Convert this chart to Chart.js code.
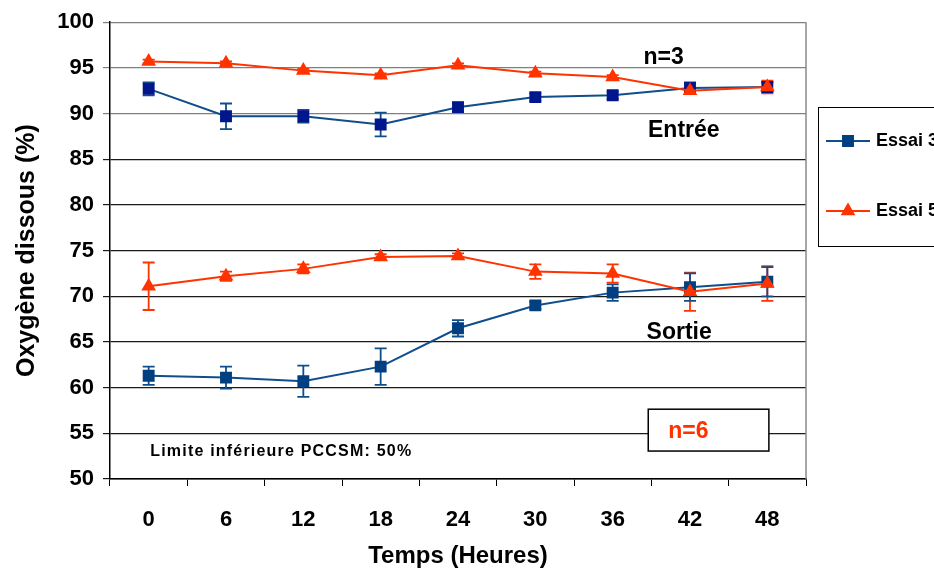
<!DOCTYPE html>
<html>
<head>
<meta charset="utf-8">
<script src="https://cdn.jsdelivr.net/npm/chart.js@4/dist/chart.umd.min.js"></script>
<style>
html,body{margin:0;padding:0;background:#fff;}
#wrap{width:934px;height:571px;position:relative;}
</style>
</head>
<body>
<div id="wrap"><canvas id="c" width="934" height="571"></canvas></div>
<script>
const categories = ['0','6','12','18','24','30','36','42','48'];
const yTicks = [50,55,60,65,70,75,80,85,90,95,100];

const essai3Entree    = [92.7, 89.7, 89.7, 88.8, 90.7, 91.8, 92.0, 92.8, 92.9];
const essai3EntreeErr = [0.7, 1.4, 0.7, 1.3, 0.5, 0.4, 0.4, 0.6, 0.5];
const essai5Entree    = [95.7, 95.5, 94.7, 94.2, 95.3, 94.4, 94.0, 92.5, 92.9];
const essai5EntreeErr = [0.2, 0.2, 0.2, 0.2, 0.2, 0.2, 0.2, 0.2, 0.7];
const essai3Sortie    = [61.3, 61.1, 60.7, 62.3, 66.5, 69.0, 70.4, 71.0, 71.6];
const essai3SortieErr = [1.0, 1.2, 1.7, 2.0, 0.9, 0.4, 0.9, 1.5, 1.6];
const essai5Sortie    = [71.1, 72.2, 73.0, 74.3, 74.4, 72.7, 72.5, 70.5, 71.4];
const essai5SortieErr = [2.6, 0.5, 0.5, 0.3, 0.3, 0.8, 1.0, 2.1, 1.9];

const seriesNames = ['Essai 3', 'Essai 5'];

const BLUE_LINE = '#104e8b';
const BLUE_MARK_IN = '#00168c';
const BLUE_MARK_OUT = '#003f80';
const RED = '#ff3300';
const FONT = '"Liberation Sans", Arial, sans-serif';

function blueDs(label, data, err, mark) {
  return { label, data, err, borderColor: BLUE_LINE, backgroundColor: mark, pointBorderColor: mark,
    pointBackgroundColor: mark, pointStyle: 'rect', pointRadius: 7, pointHoverRadius: 7,
    borderWidth: 2, tension: 0, errColor: BLUE_LINE };
}
function redDs(label, data, err) {
  return { label, data, err, borderColor: RED, backgroundColor: RED, pointBorderColor: RED,
    pointBackgroundColor: RED, pointStyle: 'triangle', pointRadius: 6.5, pointHoverRadius: 6.5,
    borderWidth: 2, tension: 0, errColor: RED };
}

const errorBars = {
  id: 'errorBars',
  beforeDatasetsDraw(chart) {
    const ctx = chart.ctx, y = chart.scales.y;
    chart.data.datasets.forEach((ds, di) => {
      const meta = chart.getDatasetMeta(di);
      if (!ds.err) return;
      ctx.save();
      ctx.strokeStyle = ds.errColor;
      ctx.lineWidth = 1.8;
      meta.data.forEach((pt, i) => {
        const e = ds.err[i];
        const v = ds.data[i];
        const yt = y.getPixelForValue(v + e), yb = y.getPixelForValue(v - e);
        const x = pt.x, w = 6;
        ctx.beginPath();
        ctx.moveTo(x, yt); ctx.lineTo(x, yb);
        ctx.moveTo(x - w, yt); ctx.lineTo(x + w, yt);
        ctx.moveTo(x - w, yb); ctx.lineTo(x + w, yb);
        ctx.stroke();
      });
      ctx.restore();
    });
  }
};

const decorations = {
  id: 'decorations',
  beforeDatasetsDraw(chart) {
    const ctx = chart.ctx, a = chart.chartArea;
    ctx.save();
    ctx.strokeStyle = '#888';
    ctx.lineWidth = 1.5;
    ctx.beginPath();
    ctx.moveTo(a.right, a.top); ctx.lineTo(a.right, a.bottom);
    ctx.stroke();
    ctx.restore();
  },
  afterDraw(chart) {
    const ctx = chart.ctx, x = chart.scales.x, y = chart.scales.y, a = chart.chartArea;
    ctx.save();
    ctx.fillStyle = '#000';
    ctx.textBaseline = 'middle';
    ctx.textAlign = 'center';
    ctx.font = 'bold 23px ' + FONT;
    ctx.fillText('n=3', x.getPixelForValue(6.66), y.getPixelForValue(96.07));
    ctx.fillText('Entrée', x.getPixelForValue(6.92), y.getPixelForValue(88.1));
    ctx.fillText('Sortie', x.getPixelForValue(6.86), y.getPixelForValue(66.05));

    // n=6 box
    const bx1 = x.getPixelForValue(6.46), bx2 = x.getPixelForValue(8.02);
    const by1 = y.getPixelForValue(57.64), by2 = y.getPixelForValue(53.06);
    ctx.fillStyle = '#fff';
    ctx.fillRect(bx1, by1, bx2 - bx1, by2 - by1);
    ctx.strokeStyle = '#000';
    ctx.lineWidth = 1.5;
    ctx.strokeRect(bx1, by1, bx2 - bx1, by2 - by1);
    ctx.fillStyle = RED;
    ctx.textAlign = 'center';
    ctx.fillText('n=6', x.getPixelForValue(6.98), y.getPixelForValue(55.13));

    ctx.fillStyle = '#000';
    ctx.textAlign = 'left';
    ctx.font = 'bold 16px ' + FONT;
    try { ctx.letterSpacing = '1.2px'; } catch (e) {}
    ctx.fillText('Limite inférieure PCCSM: 50%', x.getPixelForValue(0.02), y.getPixelForValue(52.95));
    try { ctx.letterSpacing = '0px'; } catch (e) {}

    // legend (outside plot, partially cut off like the reference)
    const lx = a.right + 12, ly = 107;
    ctx.strokeStyle = '#000';
    ctx.lineWidth = 1;
    ctx.strokeRect(lx + 0.5, ly + 0.5, 220, 139);
    const items = [
      { name: seriesNames[0], color: BLUE_LINE, mark: BLUE_MARK_OUT, style: 'rect', r: 7, yy: 141 },
      { name: seriesNames[1], color: RED, mark: RED, style: 'triangle', r: 6.5, yy: 211 }
    ];
    items.forEach(it => {
      ctx.strokeStyle = it.color;
      ctx.lineWidth = 2;
      ctx.beginPath();
      ctx.moveTo(lx + 8, it.yy); ctx.lineTo(lx + 52, it.yy);
      ctx.stroke();
      ctx.fillStyle = it.mark;
      ctx.strokeStyle = it.mark;
      Chart.helpers.drawPoint(ctx, { pointStyle: it.style, radius: it.r, borderWidth: 1, rotation: 0 }, lx + 30, it.yy);
      ctx.fillStyle = '#000';
      ctx.font = 'bold 18px ' + FONT;
      ctx.textAlign = 'left';
      ctx.fillText(it.name, lx + 58, it.yy);
    });
    ctx.restore();
  }
};

new Chart(document.getElementById('c'), {
  type: 'line',
  data: {
    labels: categories,
    datasets: [
      redDs('Essai 5 - Entrée', essai5Entree, essai5EntreeErr),
      redDs('Essai 5 - Sortie', essai5Sortie, essai5SortieErr),
      blueDs('Essai 3 - Entrée', essai3Entree, essai3EntreeErr, BLUE_MARK_IN),
      blueDs('Essai 3 - Sortie', essai3Sortie, essai3SortieErr, BLUE_MARK_OUT)
    ]
  },
  options: {
    responsive: false,
    animation: false,
    devicePixelRatio: 1,
    layout: { padding: { top: 21, right: 128, left: 0, bottom: 0 } },
    plugins: { legend: { display: false }, tooltip: { enabled: false } },
    scales: {
      x: {
        type: 'category',
        offset: true,
        grid: { display: true, drawOnChartArea: false, drawTicks: true, tickLength: 7, color: '#000', offset: true },
        border: { display: true, color: '#000', width: 1.5 },
        ticks: { color: '#000', font: { family: FONT, size: 22, weight: 'bold' }, padding: 21, maxRotation: 0 },
        title: { display: true, text: 'Temps (Heures)', color: '#000', font: { family: FONT, size: 24, weight: 'bold' }, padding: { top: 0, bottom: 0 } },
        afterFit(s) { s.height = 92; }
      },
      y: {
        min: 50, max: 100,
        afterBuildTicks(s) { s.ticks = yTicks.map(v => ({ value: v })); },
        grid: {
          color: c => (c.tick && c.tick.value >= 90) ? '#7f7f7f' : '#1a1a1a',
          lineWidth: 1.2, tickLength: 7, drawTicks: true
        },
        border: { display: true, color: '#000', width: 1.5 },
        ticks: { color: '#000', font: { family: FONT, size: 22, weight: 'bold' }, padding: 9 },
        title: { display: true, text: 'Oxygène dissous (%)', color: '#000', font: { family: FONT, size: 25, weight: 'bold' }, padding: { top: 12, bottom: 0 } },
        afterFit(s) { s.width = 110; }
      }
    }
  },
  plugins: [errorBars, decorations]
});
</script>
</body>
</html>
